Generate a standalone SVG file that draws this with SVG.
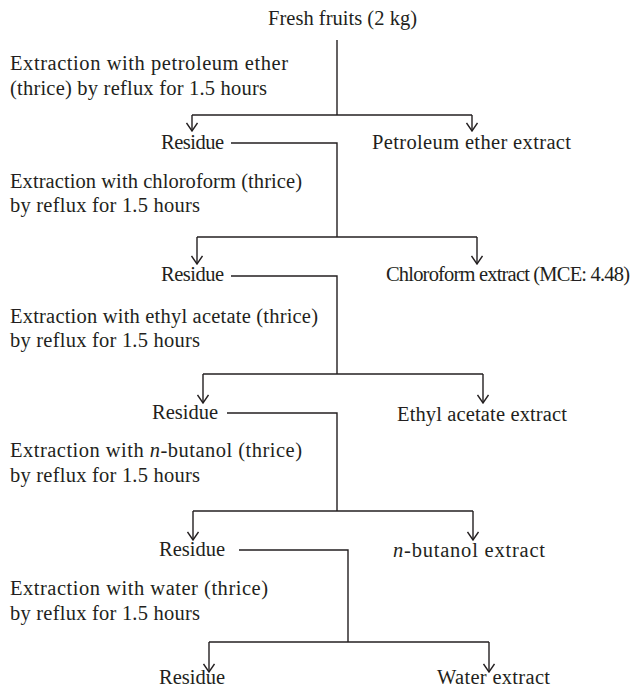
<svg xmlns="http://www.w3.org/2000/svg" width="634" height="687" viewBox="0 0 634 687">
<style>
text{font-family:"Liberation Serif","Times New Roman",serif;font-size:20.5px;fill:#231f20}
.c{fill:none;stroke:#231f20;stroke-width:1.4}
</style>
<defs>
<marker id="ah" viewBox="0 0 10 12" refX="9" refY="6" markerWidth="10" markerHeight="12" markerUnits="userSpaceOnUse" orient="auto">
<path d="M1,0.5 L9,6 L1,11.5" fill="none" stroke="#231f20" stroke-width="1.4"/>
</marker>
</defs>
<rect width="634" height="687" fill="#fff"/>
<g id="connectors">
<path class="c" d="M337,40 V115"/>
<path class="c" d="M192,115 H472"/>
<path class="c" d="M192,115 V131" marker-end="url(#ah)"/>
<path class="c" d="M472,115 V131" marker-end="url(#ah)"/>
<path class="c" d="M231,143 H337 V237"/>
<path class="c" d="M197,237 H477"/>
<path class="c" d="M197,237 V264" marker-end="url(#ah)"/>
<path class="c" d="M477,237 V264" marker-end="url(#ah)"/>
<path class="c" d="M231,276 H337 V374"/>
<path class="c" d="M203,374 H483"/>
<path class="c" d="M203,374 V403" marker-end="url(#ah)"/>
<path class="c" d="M483,374 V403" marker-end="url(#ah)"/>
<path class="c" d="M227,413 H337 V511"/>
<path class="c" d="M193,511 H473"/>
<path class="c" d="M193,511 V540" marker-end="url(#ah)"/>
<path class="c" d="M473,511 V540" marker-end="url(#ah)"/>
<path class="c" d="M239,550 H348 V642"/>
<path class="c" d="M209,642 H489"/>
<path class="c" d="M209,642 V672" marker-end="url(#ah)"/>
<path class="c" d="M489,642 V672" marker-end="url(#ah)"/>
</g>
<g id="fresh"><text x="268" y="25" textLength="149">Fresh fruits (2 kg)</text></g>
<g id="step1"><text x="10" y="70" textLength="278">Extraction with petroleum ether</text><text x="10" y="95" textLength="257">(thrice) by reflux for 1.5 hours</text></g>
<g id="residue1"><text x="161" y="149" textLength="63">Residue</text></g>
<g id="pe"><text x="372" y="149" textLength="199">Petroleum ether extract</text></g>
<g id="step2"><text x="10" y="188" textLength="292">Extraction with chloroform (thrice)</text><text x="10" y="212" textLength="190">by reflux for 1.5 hours</text></g>
<g id="residue2"><text x="161" y="281" textLength="63">Residue</text></g>
<g id="chl"><text x="386" y="281" font-size="19.2" textLength="244">Chloroform extract (MCE: 4.48)</text></g>
<g id="step3"><text x="10" y="323" textLength="308">Extraction with ethyl acetate (thrice)</text><text x="10" y="347" textLength="190">by reflux for 1.5 hours</text></g>
<g id="residue3"><text x="152" y="419" textLength="66">Residue</text></g>
<g id="ea"><text x="397" y="421" textLength="170">Ethyl acetate extract</text></g>
<g id="step4"><text x="10" y="457" textLength="292">Extraction with <tspan font-style="italic">n</tspan>-butanol (thrice)</text><text x="10" y="482" textLength="190">by reflux for 1.5 hours</text></g>
<g id="residue4"><text x="159" y="556" textLength="66">Residue</text></g>
<g id="nb"><text x="393" y="557" textLength="152"><tspan font-style="italic">n</tspan>-butanol extract</text></g>
<g id="step5"><text x="10" y="595" textLength="258">Extraction with water (thrice)</text><text x="10" y="620" textLength="190">by reflux for 1.5 hours</text></g>
<g id="residue5"><text x="159" y="684" textLength="66">Residue</text></g>
<g id="water"><text x="437" y="684" textLength="113">Water extract</text></g>
</svg>
